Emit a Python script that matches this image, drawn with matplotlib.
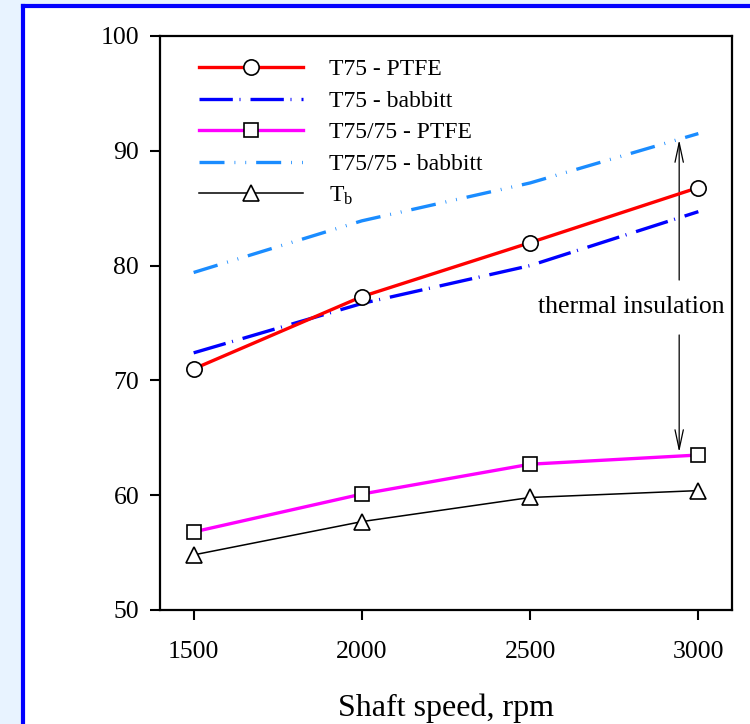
import matplotlib.pyplot as plt
from matplotlib.patches import Rectangle

plt.rcParams['font.family'] = ['Liberation Serif', 'DejaVu Serif']
plt.rcParams['mathtext.fontset'] = 'custom'
plt.rcParams['mathtext.rm'] = 'Liberation Serif'
plt.rcParams['mathtext.it'] = 'Liberation Serif:italic'

# shaft speed, rpm
speed = [1500, 2000, 2500, 3000]

# temperatures
t75_ptfe = [71.0, 77.3, 82.0, 86.8]
t75_babbitt = [72.4, 76.7, 80.0, 84.7]
t7575_ptfe = [56.8, 60.1, 62.7, 63.5]
t7575_babbitt = [79.4, 83.9, 87.2, 91.5]
t_b = [54.8, 57.7, 59.8, 60.4]

xticks = [1500, 2000, 2500, 3000]
yticks = [50, 60, 70, 80, 90, 100]

fig = plt.figure(figsize=(7.5, 7.24), dpi=100)
fig.patch.set_facecolor('#e8f3ff')

# white panel with blue frame (left and top edges)
fig.patches.append(Rectangle((23 / 750, 0), 1, 1 - 7 / 724, transform=fig.transFigure,
                             facecolor='white', edgecolor='none', zorder=-5))
fig.add_artist(plt.Line2D([22.5 / 750, 22.5 / 750], [0, 1 - 6 / 724], color='#0000ff',
                          lw=3, transform=fig.transFigure, zorder=-4))
fig.add_artist(plt.Line2D([22.5 / 750, 1], [1 - 6 / 724, 1 - 6 / 724], color='#0000ff',
                          lw=3, transform=fig.transFigure, zorder=-4))

ax = fig.add_axes([160 / 750, 1 - 610 / 724, 572 / 750, 574 / 724])
ax.set_facecolor('none')

mk = dict(markersize=11, markerfacecolor='white', markeredgecolor='black', markeredgewidth=1.2)

ax.plot(speed, t75_ptfe, color='#ff0000', lw=2.4, marker='o', label='T75 - PTFE', zorder=5, **mk)
l2, = ax.plot(speed, t75_babbitt, color='#0000ff', lw=2.4, label='T75 - babbitt', zorder=4)
l2.set_dashes([10, 2, 0.3, 3])
ax.plot(speed, t7575_ptfe, color='#ff00ff', lw=2.4, marker='s', label='T75/75 - PTFE', zorder=5,
        **dict(mk, markersize=10.5))
l4, = ax.plot(speed, t7575_babbitt, color='#1a8cff', lw=2.4, label='T75/75 - babbitt', zorder=4)
l4.set_dashes([7.5, 3, 0.25, 3, 0.25, 3])
ax.plot(speed, t_b, color='black', lw=1.1, marker='^', label=r'T$_{\mathrm{b}}$', zorder=5, **mk)

# thermal insulation annotation
ax.annotate('', xy=(2943, 91.2), xytext=(2943, 78.5),
            arrowprops=dict(arrowstyle='->,head_length=1.4,head_width=0.3', color='black', lw=0.9))
ax.annotate('', xy=(2943, 63.5), xytext=(2943, 74.2),
            arrowprops=dict(arrowstyle='->,head_length=1.4,head_width=0.3', color='black', lw=0.9))
ax.text(2800, 76.4, 'thermal insulation', fontsize=18.5, ha='center', va='center')

ax.set_xlim(1400, 3100)
ax.set_ylim(50, 100)
ax.set_xticks(xticks)
ax.set_yticks(yticks)
ax.tick_params(axis='both', direction='out', labelsize=18.5, width=1.5, length=7, pad=8)
ax.tick_params(axis='x', pad=15)
for s in ax.spines.values():
    s.set_linewidth(1.6)

ax.set_xlabel('Shaft speed, rpm', fontsize=23, labelpad=22)

ax.legend(loc='upper left', bbox_to_anchor=(0.068, 0.96), frameon=False, fontsize=17,
          numpoints=1, handlelength=4.4, handletextpad=1.1, labelspacing=0.42,
          borderpad=0, borderaxespad=0)

fig.savefig('out.png', dpi=100, facecolor=fig.get_facecolor())
